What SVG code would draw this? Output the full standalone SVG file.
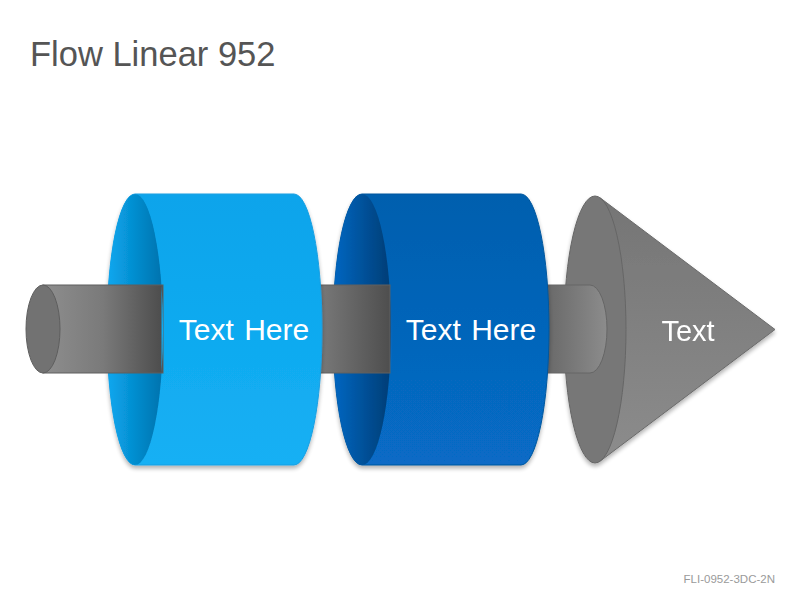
<svg xmlns="http://www.w3.org/2000/svg" width="800" height="600" viewBox="0 0 800 600">
<defs>
<style>
.lbl{font-family:"Liberation Sans",Arial,sans-serif;fill:#ffffff;text-anchor:middle}
</style>
<linearGradient id="rod1" x1="0" y1="0" x2="1" y2="0">
<stop offset="0" stop-color="#8e8e8e"/><stop offset="0.5" stop-color="#7a7a7a"/><stop offset="1" stop-color="#4c4c4c"/>
</linearGradient>
<linearGradient id="rod2" x1="0" y1="0" x2="1" y2="0">
<stop offset="0" stop-color="#7a7a7a"/><stop offset="1" stop-color="#4e4e4e"/>
</linearGradient>
<linearGradient id="rod3" x1="0" y1="0" x2="1" y2="0">
<stop offset="0" stop-color="#656565"/><stop offset="1" stop-color="#8c8c8c"/>
</linearGradient>
<linearGradient id="c1body" x1="0" y1="0" x2="0" y2="1">
<stop offset="0" stop-color="#0aa4eb"/><stop offset="1" stop-color="#15b0f4"/>
</linearGradient>
<linearGradient id="c1face" x1="0" y1="0" x2="1" y2="0">
<stop offset="0" stop-color="#0aa8f0"/><stop offset="1" stop-color="#0072ad"/>
</linearGradient>
<linearGradient id="c2body" x1="0" y1="0" x2="0" y2="1">
<stop offset="0" stop-color="#045fae"/><stop offset="1" stop-color="#076bc6"/>
</linearGradient>
<linearGradient id="c2face" x1="0" y1="0" x2="1" y2="0">
<stop offset="0" stop-color="#0667c2"/><stop offset="1" stop-color="#003d75"/>
</linearGradient>
<linearGradient id="cone" x1="0" y1="0" x2="0" y2="1">
<stop offset="0" stop-color="#757575"/><stop offset="1" stop-color="#8c8c8c"/>
</linearGradient>
<filter id="sh" x="-10%" y="-10%" width="120%" height="125%">
<feGaussianBlur in="SourceAlpha" stdDeviation="2"/>
<feOffset dx="0" dy="3"/>
<feComponentTransfer><feFuncA type="linear" slope="0.3"/></feComponentTransfer>
<feMerge><feMergeNode/><feMergeNode in="SourceGraphic"/></feMerge>
</filter>
</defs>
<rect width="800" height="600" fill="#ffffff"/>
<text x="30" y="66" font-family="Liberation Sans, Arial, sans-serif" font-size="34.5" fill="#555555">Flow Linear 952</text>
<text x="775" y="583" font-family="Liberation Sans, Arial, sans-serif" font-size="11.5" fill="#9a9a9a" text-anchor="end">FLI-0952-3DC-2N</text>

<g id="cone-node" filter="url(#sh)">
<path d="M600.3,198 L775,329.5 L600.3,461 Z" fill="url(#cone)" stroke="#6a6a6a" stroke-width="1"/>
<ellipse cx="595" cy="329.5" rx="31" ry="133.5" fill="#777777" stroke="#666666" stroke-width="1"/>
<text class="lbl" x="688" y="341" font-size="29">Text</text>
</g>

<g id="connectors">
<g id="rod3">
<path d="M540,285 L590,285 A17,44 0 0 1 590,373 L540,373 Z" fill="url(#rod3)" stroke="#666666" stroke-width="1"/>
</g>
</g>

<g id="cylinder2" filter="url(#sh)">
<path d="M362,194 L521,194 A28,135.5 0 0 1 521,465 L362,465 A29,135.5 0 0 1 362,194 Z" fill="url(#c2body)" stroke="#05579e" stroke-width="1"/>
<ellipse cx="362" cy="329.5" rx="29" ry="135.5" fill="url(#c2face)"/>
</g>

<g id="rod2">
<rect x="318" y="285" width="72" height="88" fill="url(#rod2)" stroke="#606060" stroke-width="1"/>
</g>
<g id="cylinder2-front">
<path d="M390.8,285 A29,135.5 0 0 1 390.8,373 Z" fill="url(#c2body)"/>
<text class="lbl" x="471" y="340" font-size="30" word-spacing="2">Text Here</text>
</g>

<g id="cylinder1" filter="url(#sh)">
<path d="M135,194 L294,194 A28,135.5 0 0 1 294,465 L135,465 A28,135.5 0 0 1 135,194 Z" fill="url(#c1body)" stroke="#1a9fe2" stroke-width="1"/>
<ellipse cx="135" cy="329.5" rx="28" ry="135.5" fill="url(#c1face)"/>
</g>

<g id="rod1">
<rect x="43" y="285" width="120" height="88" fill="url(#rod1)" stroke="#5e5e5e" stroke-width="1"/>
<ellipse cx="43" cy="329" rx="17" ry="44" fill="#727272" stroke="#5e5e5e" stroke-width="1"/>
</g>
<g id="cylinder1-front">
<path d="M161.5,285 A28,135.5 0 0 1 161.5,373 Z" fill="url(#c1body)"/>
<text class="lbl" x="244" y="340" font-size="30" word-spacing="2">Text Here</text>
</g>
</svg>
